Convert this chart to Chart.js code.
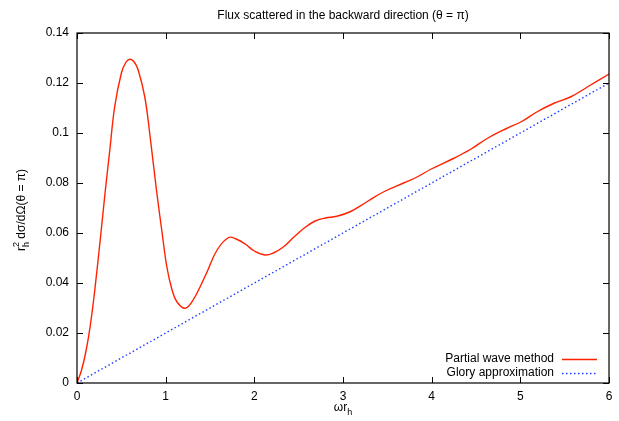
<!DOCTYPE html>
<html>
<head>
<meta charset="utf-8">
<script src="https://cdn.jsdelivr.net/npm/chart.js@4.4.1/dist/chart.umd.min.js"></script>
<style>
html,body{margin:0;padding:0;background:#fff;}
#wrap{width:619px;height:421px;position:relative;}
</style>
</head>
<body>
<div id="wrap"><canvas id="c" width="619" height="421"></canvas></div>
<script>
const titleText = "Flux scattered in the backward direction (\u03B8 = \u03C0)";
const xTicks = [0, 1, 2, 3, 4, 5, 6];
const yTicks = [0, 0.02, 0.04, 0.06, 0.08, 0.1, 0.12, 0.14];
const seriesNames = ["Partial wave method", "Glory approximation"];

const partialX = [0, 0.05, 0.1, 0.15, 0.2, 0.27, 0.32, 0.37, 0.425, 0.5, 0.55, 0.595, 0.645, 0.69, 0.764, 0.82, 0.896, 0.96, 1.013, 1.07, 1.126, 1.22, 1.31, 1.46, 1.58, 1.71, 1.8, 1.9, 2.0, 2.12, 2.22, 2.33, 2.45, 2.56, 2.68, 2.8, 2.93, 3.08, 3.27, 3.46, 3.69, 3.84, 3.99, 4.25, 4.44, 4.63, 4.85, 5.01, 5.19, 5.38, 5.57, 5.76, 6.0];
const partialY = [0, 0.005, 0.0125, 0.023, 0.037, 0.060, 0.0772, 0.0932, 0.1105, 0.1239, 0.1282, 0.1295, 0.1284, 0.1252, 0.1145, 0.0999, 0.0772, 0.060, 0.0465, 0.0375, 0.0325, 0.0299, 0.0332, 0.0439, 0.0532, 0.0582, 0.0575, 0.0555, 0.0528, 0.0512, 0.0521, 0.0545, 0.0585, 0.0619, 0.0647, 0.0660, 0.0667, 0.0685, 0.0725, 0.0765, 0.0801, 0.0825, 0.0855, 0.0899, 0.0935, 0.0979, 0.1019, 0.1045, 0.1085, 0.1119, 0.1145, 0.1185, 0.1236];

const gloryX = [0, 1, 2, 3, 4, 5, 6];
const gloryY = [0, 0.02, 0.04, 0.06, 0.08, 0.10, 0.12];

const RED = "#ff2200";
const BLUE = "#1f3cff";
const FONT = "'Liberation Sans', Arial, Helvetica, sans-serif";

const decor = {
  id: "decor",
  afterDatasetsDraw(chart) {
    const ctx = chart.ctx;
    const a = chart.chartArea;
    const xs = chart.scales.x, ys = chart.scales.y;
    ctx.save();
    ctx.strokeStyle = "#000";
    ctx.lineWidth = 1.2;
    ctx.strokeRect(a.left, a.top, a.right - a.left, a.bottom - a.top);
    const tl = 6;
    ctx.beginPath();
    xTicks.forEach(v => {
      const px = Math.round(xs.getPixelForValue(v)) + 0.5;
      ctx.moveTo(px, a.bottom); ctx.lineTo(px, a.bottom - tl);
      ctx.moveTo(px, a.top); ctx.lineTo(px, a.top + tl);
    });
    yTicks.forEach(v => {
      const py = Math.round(ys.getPixelForValue(v)) + 0.5;
      ctx.moveTo(a.left, py); ctx.lineTo(a.left + tl, py);
      ctx.moveTo(a.right, py); ctx.lineTo(a.right - tl, py);
    });
    ctx.lineWidth = 1;
    ctx.stroke();

    ctx.fillStyle = "#000";
    const xc = (a.left + a.right) / 2;
    ctx.font = "12px " + FONT;
    ctx.textAlign = "center";
    ctx.textBaseline = "alphabetic";
    ctx.fillText(titleText, xc, 19);

    // x axis title: ωr_h
    ctx.font = "12px " + FONT;
    const main = "\u03C9r";
    const wMain = ctx.measureText(main).width;
    ctx.font = "9px " + FONT;
    const wSub = ctx.measureText("h").width;
    const startX = xc - (wMain + wSub) / 2;
    ctx.textAlign = "left";
    ctx.font = "12px " + FONT;
    ctx.fillText(main, startX, 411);
    ctx.font = "9px " + FONT;
    ctx.fillText("h", startX + wMain, 415);

    // y axis title (rotated)
    ctx.save();
    ctx.translate(25, (a.top + a.bottom) / 2 + 2);
    ctx.rotate(-Math.PI / 2);
    ctx.font = "12px " + FONT;
    const rest = " d\u03C3/d\u03A9(\u03B8 = \u03C0)";
    const wr = ctx.measureText("r").width;
    const wRest = ctx.measureText(rest).width;
    ctx.font = "9px " + FONT;
    const wh = ctx.measureText("h").width;
    const total = wr + wh + wRest;
    const cx = -total / 2;
    ctx.textAlign = "left";
    ctx.font = "12px " + FONT;
    ctx.fillText("r", cx, 0);
    ctx.font = "9px " + FONT;
    ctx.fillText("h", cx + wr, 4);
    ctx.fillText("2", cx + wr, -6);
    ctx.font = "12px " + FONT;
    ctx.fillText(rest, cx + wr + wh, 0);
    ctx.restore();

    // legend
    ctx.font = "12px " + FONT;
    ctx.textAlign = "right";
    ctx.textBaseline = "middle";
    const legY = [359, 373];
    const styles = [{c: RED, dash: []}, {c: BLUE, dash: [1.5, 2.5]}];
    seriesNames.forEach((n, i) => {
      ctx.fillStyle = "#000";
      ctx.fillText(n, 554, legY[i]);
      ctx.beginPath();
      ctx.strokeStyle = styles[i].c;
      ctx.setLineDash(styles[i].dash);
      ctx.lineWidth = 1.4;
      ctx.moveTo(562, legY[i] + 0.5);
      ctx.lineTo(597, legY[i] + 0.5);
      ctx.stroke();
    });
    ctx.setLineDash([]);
    ctx.restore();
  }
};

new Chart(document.getElementById("c"), {
  type: "line",
  data: {
    datasets: [
      {
        label: seriesNames[0],
        data: partialX.map((x, i) => ({x: x, y: partialY[i]})),
        borderColor: RED,
        borderWidth: 1.4,
        pointRadius: 0,
        fill: false,
        tension: 0.4
      },
      {
        label: seriesNames[1],
        data: gloryX.map((x, i) => ({x: x, y: gloryY[i]})),
        borderColor: BLUE,
        borderWidth: 1.4,
        borderDash: [1.5, 2.5],
        pointRadius: 0,
        fill: false,
        tension: 0
      }
    ]
  },
  options: {
    responsive: false,
    animation: false,
    layout: {padding: {left: 0, right: 10, top: 33, bottom: 0}},
    plugins: {legend: {display: false}, title: {display: false}, tooltip: {enabled: false}},
    scales: {
      x: {
        type: "linear",
        min: 0, max: 6,
        afterFit(s) { s.height = 38; },
        afterBuildTicks(s) { s.ticks = xTicks.map(v => ({value: v})); },
        grid: {display: false, drawTicks: false},
        border: {display: false},
        ticks: {color: "#000", font: {size: 12, family: FONT}, padding: 6, maxRotation: 0,
          callback: v => String(v)}
      },
      y: {
        type: "linear",
        min: 0, max: 0.14,
        afterFit(s) { s.width = 77; },
        afterBuildTicks(s) { s.ticks = yTicks.map(v => ({value: v})); },
        grid: {display: false, drawTicks: false},
        border: {display: false},
        ticks: {color: "#000", font: {size: 12, family: FONT}, padding: 8,
          callback: v => String(Number(v.toFixed(2)))}
      }
    }
  },
  plugins: [decor]
});
</script>
</body>
</html>
